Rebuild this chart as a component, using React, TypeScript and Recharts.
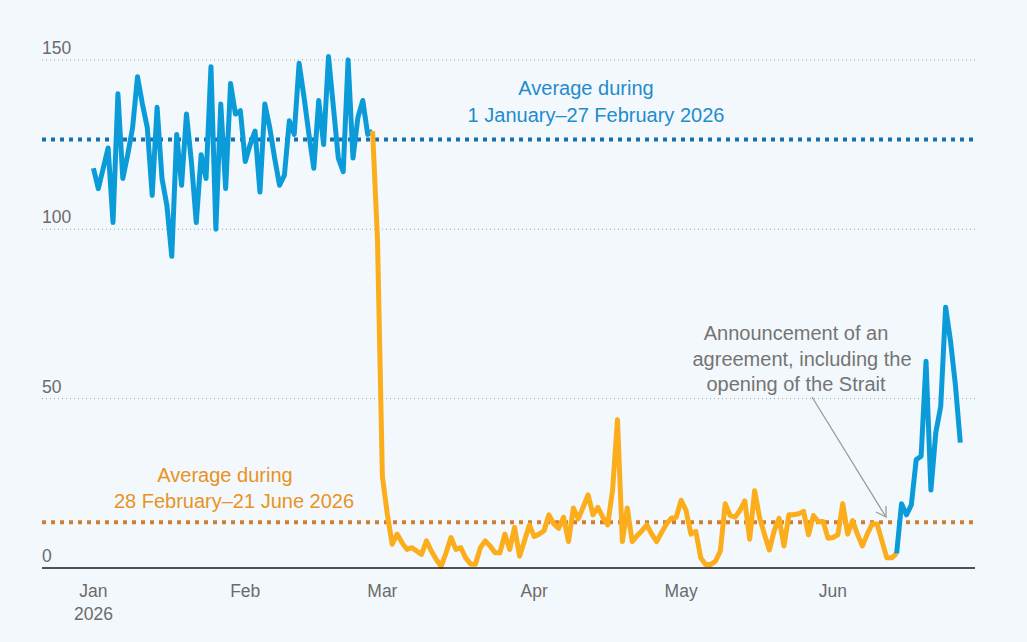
import {
  LineChart,
  Line,
  XAxis,
  YAxis,
  CartesianGrid,
  ReferenceLine,
} from 'recharts'

// day 0 = 1 January 2026
const blueBefore = [
  118, 112, 118, 124, 102, 140, 115, 122, 130, 145, 137, 130, 110, 136, 115, 107,
  92, 128, 113, 134, 120, 102, 122, 115, 148, 100, 137, 112, 143, 134, 135, 120,
  125, 129, 111, 137, 130, 121, 113, 116, 132, 128, 149, 139, 128, 118, 138, 125,
  151, 136, 121, 117, 150, 121, 133, 138, 128, 129,
]
const orangeStart = 57
const orange = [
  129, 97, 27, 16, 7, 10, 7.5, 5.5, 6, 5, 4, 8, 5, 2.5, 0.5, 4.5, 9, 5.5, 6, 3,
  1.2, 1.1, 6, 8, 6.5, 4.5, 4.5, 10, 5.5, 12, 3.5, 8, 12.7, 9.3, 10, 11, 15.7, 13,
  11.7, 15, 7.8, 17.7, 14.5, 18, 21.6, 15.7, 17.9, 15, 12.7, 23, 43.8, 7.8, 17.7,
  7.8, 9.5, 11, 12.7, 10, 7.8, 10.5, 13, 14.7, 15, 20, 17, 10, 10.8, 3, 1, 1, 2,
  5, 19, 15.5, 15, 17, 19.8, 8.5, 22.8, 15, 10, 5.3, 11, 14.7, 6.5, 15.7, 15.7, 16,
  16.7, 9.8, 15.5, 13.7, 13.7, 8.8, 9, 9.8, 19, 10, 14, 10, 6.5, 10, 13, 13, 8, 3,
  3, 4.3,
]
const blueAfterStart = 164
const blueAfter = [4.3, 19, 15.7, 18.6, 32, 33, 61, 23, 40, 47.7, 77, 67, 54, 37]

const avgBefore = 126.5
const avgAfter = 13.5

const monthTicks = [0, 31, 59, 90, 120, 151]
const monthLabels = ['Jan', 'Feb', 'Mar', 'Apr', 'May', 'Jun']
const yTicks = [0, 50, 100, 150]
const gridValues = [50, 100, 150]

const data = Array.from({ length: 178 }, (_, day) => ({
  day,
  blue: day < blueBefore.length ? blueBefore[day] : undefined,
  orange:
    day >= orangeStart && day < orangeStart + orange.length
      ? orange[day - orangeStart]
      : undefined,
  blue2:
    day >= blueAfterStart && day < blueAfterStart + blueAfter.length
      ? blueAfter[day - blueAfterStart]
      : undefined,
}))

const W = 1027
const H = 642
const LEFT = 42
const FONT = '"Liberation Sans", Arial, sans-serif'
const BLUE = '#0b9bd9'
const ORANGE = '#fbad1c'

function MonthTick({ x, y, payload }: any) {
  const i = monthTicks.indexOf(payload.value)
  return (
    <g>
      <text x={x} y={y + 27} textAnchor="middle" fontSize={17.5} fill="#6b6b6b" fontFamily={FONT}>
        {monthLabels[i]}
      </text>
      {i === 0 && (
        <text x={x} y={y + 50} textAnchor="middle" fontSize={17.5} fill="#6b6b6b" fontFamily={FONT}>
          2026
        </text>
      )}
    </g>
  )
}

function ValueTick({ y, payload }: any) {
  return (
    <text x={LEFT} y={y - 6} textAnchor="start" fontSize={17.5} fill="#6b6b6b" fontFamily={FONT}>
      {payload.value}
    </text>
  )
}

export default function App() {
  return (
    <div
      style={{
        position: 'absolute',
        left: 0,
        top: 0,
        width: W,
        height: H,
        background: '#f3f8fc',
      }}
    >
      <LineChart
        width={W}
        height={H}
        data={data}
        margin={{ top: 26, right: 52, left: LEFT - 1, bottom: 44 }}
      >
        <CartesianGrid
          horizontal
          vertical={false}
          horizontalValues={gridValues}
          stroke="#a5a5a5"
          strokeDasharray="1 3"
        />
        <XAxis
          type="number"
          dataKey="day"
          domain={[-10.5, 180]}
          ticks={monthTicks}
          tick={<MonthTick />}
          tickLine={false}
          tickSize={0}
          height={30}
          axisLine={{ stroke: '#1a1a1a', strokeWidth: 1.5 }}
          interval={0}
        />
        <YAxis
          type="number"
          domain={[0, 160]}
          ticks={yTicks}
          width={1}
          tick={<ValueTick />}
          axisLine={false}
          tickLine={false}
          interval={0}
        />
        <ReferenceLine y={avgBefore} stroke="#1570b0" strokeWidth={4} strokeDasharray="4 5" />
        <ReferenceLine y={avgAfter} stroke="#d17d33" strokeWidth={4} strokeDasharray="4 5" />
        <Line
          dataKey="blue"
          stroke={BLUE}
          strokeWidth={5}
          dot={false}
          isAnimationActive={false}
          strokeLinejoin="round"
        />
        <Line
          dataKey="orange"
          stroke={ORANGE}
          strokeWidth={5}
          dot={false}
          isAnimationActive={false}
          strokeLinejoin="round"
        />
        <Line
          dataKey="blue2"
          stroke={BLUE}
          strokeWidth={5}
          dot={false}
          isAnimationActive={false}
          strokeLinejoin="round"
        />
      </LineChart>

      <svg
        width={W}
        height={H}
        style={{ position: 'absolute', left: 0, top: 0, pointerEvents: 'none' }}
        fontFamily={FONT}
      >
        <text x={586} y={95} textAnchor="middle" fontSize={20} fill="#1f8ccc">
          Average during
        </text>
        <text x={596} y={122} textAnchor="middle" fontSize={20} fill="#1f8ccc">
          1 January–27 February 2026
        </text>
        <text x={225} y={482} textAnchor="middle" fontSize={20} fill="#e8931f">
          Average during
        </text>
        <text x={234} y={508} textAnchor="middle" fontSize={20} fill="#e8931f">
          28 February–21 June 2026
        </text>
        <text x={796} y={340} textAnchor="middle" fontSize={20} fill="#747474">
          Announcement of an
        </text>
        <text x={802} y={366} textAnchor="middle" fontSize={20} fill="#747474">
          agreement, including the
        </text>
        <text x={796} y={391} textAnchor="middle" fontSize={20} fill="#747474">
          opening of the Strait
        </text>
        <line x1={812} y1={397} x2={886} y2={517} stroke="#9a9a9a" strokeWidth={1.3} />
        <polyline
          points="876,512 886,517 886,506"
          fill="none"
          stroke="#9a9a9a"
          strokeWidth={1.3}
        />
      </svg>
    </div>
  )
}
